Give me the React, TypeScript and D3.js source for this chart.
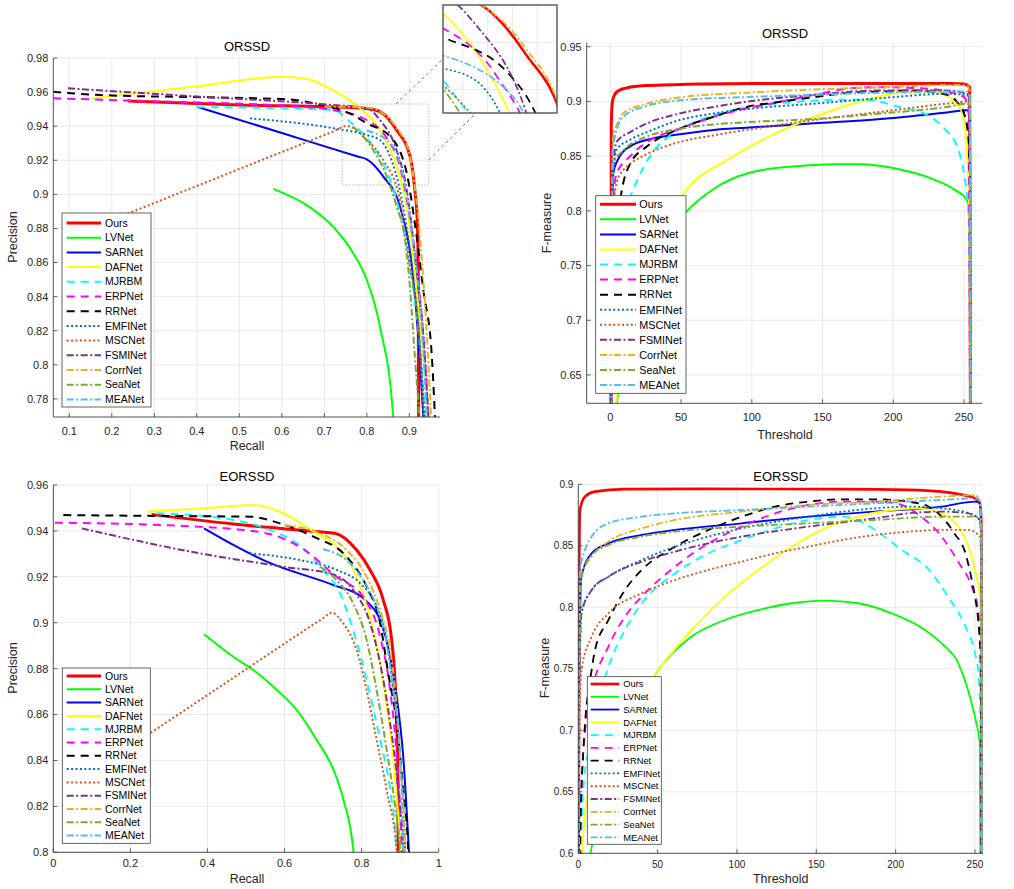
import React from 'react';
import * as d3 from 'd3';

type Pt = [number, number];

const METHODS = ['Ours', 'LVNet', 'SARNet', 'DAFNet', 'MJRBM', 'ERPNet', 'RRNet', 'EMFINet', 'MSCNet', 'FSMINet', 'CorrNet', 'SeaNet', 'MEANet'];
const COLORS = ['#ff0000', '#00ff00', '#0000ff', '#ffff00', '#00ffff', '#ff00ff', '#000000', '#0072bd', '#d95319', '#7e2f8e', '#edb120', '#77ac30', '#4dbeee'];
const STYLES = ['-', '-', '-', '-', '--', '--', '--', ':', ':', '-.', '-.', '-.', '-.'];

const PR_ORSSD_XTICKS = [0.1, 0.2, 0.3, 0.4, 0.5, 0.6, 0.7, 0.8, 0.9];
const PR_ORSSD_YTICKS = [0.78, 0.8, 0.82, 0.84, 0.86, 0.88, 0.9, 0.92, 0.94, 0.96, 0.98];
const F_ORSSD_XTICKS = [0, 50, 100, 150, 200, 250];
const F_ORSSD_YTICKS = [0.65, 0.7, 0.75, 0.8, 0.85, 0.9, 0.95];
const PR_EORSSD_XTICKS = [0, 0.2, 0.4, 0.6, 0.8, 1];
const PR_EORSSD_YTICKS = [0.8, 0.82, 0.84, 0.86, 0.88, 0.9, 0.92, 0.94, 0.96];
const F_EORSSD_XTICKS = [0, 50, 100, 150, 200, 250];
const F_EORSSD_YTICKS = [0.6, 0.65, 0.7, 0.75, 0.8, 0.85, 0.9];

// ---------- ORSSD PR (recall, precision) ----------
const prO_Ours: Pt[] = [[0.238, 0.9548], [0.5, 0.9525], [0.78, 0.9507], [0.8, 0.9503], [0.831, 0.9485], [0.87, 0.9378], [0.902, 0.922], [0.913, 0.9026], [0.919, 0.883], [0.921, 0.85], [0.922, 0.76]];
const prO_LVNet: Pt[] = [[0.58, 0.9032], [0.67, 0.8918], [0.721, 0.881], [0.768, 0.8655], [0.8, 0.8498], [0.831, 0.8224], [0.862, 0.7696], [0.864, 0.76]];
const prO_SARNet: Pt[] = [[0.4, 0.9514], [0.6, 0.936], [0.78, 0.9221], [0.8, 0.9206], [0.839, 0.9104], [0.878, 0.8928], [0.905, 0.86], [0.92, 0.82], [0.935, 0.76]];
const prO_DAFNet: Pt[] = [[0.153, 0.9564], [0.4, 0.9634], [0.6, 0.969], [0.659, 0.9677], [0.721, 0.9612], [0.78, 0.9514], [0.831, 0.9378], [0.862, 0.9221], [0.886, 0.9026], [0.902, 0.8792], [0.913, 0.8537], [0.925, 0.8244], [0.937, 0.795], [0.949, 0.76]];
const prO_MJRBM: Pt[] = [[0.4, 0.9512], [0.6, 0.9505], [0.721, 0.9495], [0.76, 0.9427], [0.807, 0.931], [0.835, 0.92], [0.87, 0.8967], [0.9, 0.86], [0.925, 0.81], [0.94, 0.76]];
const prO_ERPNet: Pt[] = [[0.062, 0.9564], [0.243, 0.955], [0.643, 0.9514], [0.72, 0.9495], [0.8, 0.9436], [0.847, 0.933], [0.878, 0.9163], [0.905, 0.88], [0.925, 0.84], [0.94, 0.79], [0.946, 0.76]];
const prO_RRNet: Pt[] = [[0.062, 0.9602], [0.172, 0.9583], [0.408, 0.957], [0.612, 0.9558], [0.7, 0.952], [0.76, 0.9475], [0.8, 0.9417], [0.855, 0.9339], [0.894, 0.9124], [0.913, 0.883], [0.933, 0.844], [0.953, 0.805], [0.962, 0.76]];
const prO_EMFINet: Pt[] = [[0.525, 0.9446], [0.721, 0.9388], [0.8, 0.9348], [0.83, 0.932], [0.855, 0.9221], [0.88, 0.9], [0.905, 0.86], [0.925, 0.81], [0.938, 0.76]];
const prO_MSCNet: Pt[] = [[0.15, 0.88], [0.45, 0.9099], [0.72, 0.9368], [0.753, 0.9401], [0.8, 0.9319], [0.839, 0.92], [0.878, 0.8967], [0.9, 0.86], [0.925, 0.81], [0.935, 0.76]];
const prO_FSMINet: Pt[] = [[0.097, 0.9622], [0.408, 0.9573], [0.721, 0.9524], [0.8, 0.9505], [0.831, 0.9436], [0.87, 0.926], [0.894, 0.9026], [0.915, 0.86], [0.935, 0.81], [0.947, 0.76]];
const prO_CorrNet: Pt[] = [[0.7, 0.9515], [0.8, 0.951], [0.835, 0.948], [0.87, 0.939], [0.9, 0.924], [0.915, 0.9], [0.93, 0.86], [0.943, 0.81], [0.953, 0.76]];
const prO_SeaNet: Pt[] = [[0.768, 0.9397], [0.815, 0.9261], [0.847, 0.9104], [0.87, 0.893], [0.89, 0.8733], [0.902, 0.844], [0.913, 0.805], [0.927, 0.76]];
const prO_MEANet: Pt[] = [[0.8, 0.9375], [0.862, 0.928], [0.89, 0.905], [0.91, 0.87], [0.93, 0.82], [0.943, 0.76]];

// ---------- ORSSD F-measure vs threshold ----------
const fO_Ours: Pt[] = [[0, 0.3], [0.7, 0.88], [1.5, 0.9], [3, 0.906], [6, 0.91], [12, 0.9125], [25, 0.9145], [50, 0.9155], [100, 0.9163], [150, 0.9165], [200, 0.9165], [240, 0.9163], [250, 0.916], [254, 0.913], [255, 0.3]];
const fO_LVNet: Pt[] = [[0, 0.3], [3, 0.6], [15, 0.7], [35, 0.765], [54, 0.7995], [73, 0.82], [99, 0.835], [134, 0.841], [157.6, 0.8426], [176, 0.8426], [204, 0.838], [228, 0.829], [245, 0.818], [252, 0.81], [254, 0.8], [255, 0.3]];
const fO_SARNet: Pt[] = [[0, 0.3], [1, 0.76], [2, 0.834], [5, 0.846], [9, 0.854], [14, 0.859], [26, 0.865], [49, 0.87], [73, 0.874], [96, 0.876], [144, 0.88], [191, 0.884], [238, 0.89], [252, 0.892], [254, 0.89], [255, 0.3]];
const fO_DAFNet: Pt[] = [[0, 0.3], [1, 0.5], [5, 0.64], [15, 0.72], [30, 0.77], [51.6, 0.816], [87, 0.85], [122, 0.874], [157, 0.892], [181, 0.9015], [204, 0.908], [228, 0.909], [242, 0.9015], [249, 0.889], [251.5, 0.865], [252.7, 0.84], [254, 0.78], [255, 0.3]];
const fO_MJRBM: Pt[] = [[0, 0.3], [1, 0.65], [3, 0.74], [8, 0.79], [15.1, 0.816], [28, 0.85], [44.5, 0.871], [63, 0.883], [87, 0.892], [110, 0.897], [134, 0.9], [157, 0.9015], [181, 0.9015], [204, 0.895], [223, 0.888], [237, 0.874], [246, 0.856], [250, 0.834], [252, 0.816], [253, 0.8], [254, 0.75], [255, 0.3]];
const fO_ERPNet: Pt[] = [[0, 0.3], [1, 0.75], [2, 0.81], [4.4, 0.834], [14, 0.85], [26, 0.863], [49, 0.875], [73, 0.886], [96, 0.8936], [120, 0.8997], [144, 0.906], [170, 0.912], [191, 0.913], [220, 0.912], [238, 0.909], [250, 0.904], [253, 0.895], [255, 0.3]];
const fO_RRNet: Pt[] = [[0, 0.3], [1, 0.7], [2, 0.76], [5, 0.79], [8, 0.818], [14, 0.843], [26, 0.859], [49, 0.875], [73, 0.886], [96, 0.895], [120, 0.8997], [144, 0.904], [170, 0.908], [191, 0.909], [215, 0.91], [238, 0.906], [245, 0.8997], [250, 0.889], [253, 0.868], [254, 0.84], [255, 0.3]];
const fO_EMFINet: Pt[] = [[0, 0.3], [1, 0.77], [2, 0.83], [4.5, 0.856], [14, 0.865], [26, 0.872], [49, 0.883], [73, 0.889], [96, 0.893], [144, 0.898], [191, 0.903], [238, 0.907], [252, 0.906], [254, 0.9], [255, 0.3]];
const fO_MSCNet: Pt[] = [[0, 0.3], [1, 0.75], [2, 0.8], [5, 0.828], [9, 0.837], [14, 0.843], [26, 0.852], [49, 0.863], [73, 0.869], [96, 0.874], [144, 0.883], [191, 0.8905], [238, 0.898], [252, 0.8997], [254, 0.895], [255, 0.3]];
const fO_FSMINet: Pt[] = [[0, 0.3], [1, 0.78], [2, 0.84], [4.5, 0.863], [14, 0.872], [26, 0.88], [49, 0.889], [73, 0.895], [96, 0.8997], [144, 0.906], [191, 0.91], [238, 0.91], [252, 0.907], [254, 0.9], [255, 0.3]];
const fO_CorrNet: Pt[] = [[0, 0.3], [1, 0.8], [2, 0.866], [5, 0.88], [9, 0.889], [26, 0.898], [49, 0.9037], [96, 0.908], [144, 0.911], [191, 0.9128], [238, 0.915], [252, 0.915], [254, 0.91], [255, 0.3]];
const fO_SeaNet: Pt[] = [[0, 0.3], [1, 0.78], [2, 0.843], [9, 0.855], [26, 0.868], [49, 0.875], [73, 0.879], [96, 0.881], [144, 0.884], [191, 0.889], [238, 0.895], [252, 0.898], [254, 0.895], [255, 0.3]];
const fO_MEANet: Pt[] = [[0, 0.3], [1, 0.79], [2, 0.858], [5, 0.876], [9, 0.886], [26, 0.896], [49, 0.901], [96, 0.904], [144, 0.906], [191, 0.908], [238, 0.909], [252, 0.909], [254, 0.905], [255, 0.3]];

// ---------- EORSSD PR ----------
const prE_Ours: Pt[] = [[0.255, 0.9472], [0.467, 0.943], [0.71, 0.9393], [0.73, 0.939], [0.787, 0.9317], [0.822, 0.923], [0.856, 0.91], [0.878, 0.8925], [0.887, 0.8736], [0.891, 0.856], [0.894, 0.8345], [0.895, 0.79]];
const prE_LVNet: Pt[] = [[0.391, 0.895], [0.467, 0.8852], [0.519, 0.8794], [0.58, 0.8707], [0.6315, 0.862], [0.683, 0.849], [0.727, 0.8359], [0.753, 0.8228], [0.779, 0.8], [0.782, 0.79]];
const prE_SARNet: Pt[] = [[0.391, 0.9411], [0.467, 0.9339], [0.554, 0.9266], [0.727, 0.9164], [0.8, 0.9113], [0.815, 0.909], [0.848, 0.9012], [0.874, 0.8852], [0.891, 0.8678], [0.908, 0.8416], [0.926, 0.79]];
const prE_DAFNet: Pt[] = [[0.242, 0.9484], [0.4, 0.95], [0.519, 0.9513], [0.597, 0.9477], [0.675, 0.9397], [0.735, 0.9331], [0.787, 0.92], [0.822, 0.9026], [0.848, 0.8823], [0.865, 0.8634], [0.882, 0.8416], [0.906, 0.79]];
const prE_MJRBM: Pt[] = [[0.268, 0.9477], [0.467, 0.9448], [0.562, 0.9404], [0.649, 0.9324], [0.7, 0.923], [0.744, 0.9128], [0.778, 0.8968], [0.813, 0.875], [0.848, 0.8489], [0.874, 0.8271], [0.891, 0.8], [0.893, 0.79]];
const prE_ERPNet: Pt[] = [[0.004, 0.9436], [0.381, 0.9418], [0.554, 0.9389], [0.649, 0.932], [0.735, 0.92], [0.804, 0.9113], [0.848, 0.8939], [0.874, 0.8707], [0.891, 0.8416], [0.904, 0.8], [0.905, 0.79]];
const prE_RRNet: Pt[] = [[0.026, 0.9469], [0.294, 0.9465], [0.51, 0.9462], [0.588, 0.9433], [0.675, 0.9375], [0.761, 0.9288], [0.813, 0.9157], [0.848, 0.8998], [0.869, 0.878], [0.891, 0.8562], [0.908, 0.8271], [0.921, 0.8], [0.922, 0.79]];
const prE_EMFINet: Pt[] = [[0.51, 0.9302], [0.64, 0.9273], [0.735, 0.923], [0.796, 0.9172], [0.839, 0.907], [0.865, 0.8925], [0.882, 0.8707], [0.9, 0.8416], [0.913, 0.8], [0.914, 0.79]];
const prE_MSCNet: Pt[] = [[0.1, 0.835], [0.4, 0.8685], [0.7, 0.902], [0.722, 0.9044], [0.752, 0.8998], [0.787, 0.8881], [0.813, 0.8707], [0.839, 0.8489], [0.865, 0.8271], [0.891, 0.8], [0.892, 0.79]];
const prE_FSMINet: Pt[] = [[0.074, 0.9411], [0.381, 0.9302], [0.597, 0.9244], [0.727, 0.921], [0.778, 0.9143], [0.822, 0.8998], [0.848, 0.8823], [0.874, 0.8562], [0.895, 0.8271], [0.908, 0.8], [0.909, 0.79]];
const prE_CorrNet: Pt[] = [[0.6, 0.9425], [0.692, 0.939], [0.761, 0.9317], [0.813, 0.92], [0.848, 0.9055], [0.874, 0.8881], [0.887, 0.8707], [0.9, 0.8416], [0.913, 0.8], [0.914, 0.79]];
const prE_SeaNet: Pt[] = [[0.692, 0.9244], [0.735, 0.9186], [0.778, 0.9085], [0.813, 0.8925], [0.839, 0.8707], [0.865, 0.8446], [0.887, 0.8199], [0.9, 0.8], [0.901, 0.79]];
const prE_MEANet: Pt[] = [[0.7, 0.932], [0.77, 0.9259], [0.804, 0.9186], [0.839, 0.907], [0.865, 0.891], [0.882, 0.8707], [0.9, 0.8416], [0.908, 0.8], [0.909, 0.79]];

// ---------- EORSSD F-measure vs threshold ----------
const fE_Ours: Pt[] = [[0, 0.3], [0.5, 0.82], [1, 0.879], [4.2, 0.89], [10.5, 0.894], [29, 0.896], [80, 0.8962], [165, 0.896], [208, 0.8954], [229, 0.894], [244, 0.891], [250, 0.8886], [253, 0.8846], [254, 0.87], [254.5, 0.3]];
const fE_LVNet: Pt[] = [[0, 0.3], [3, 0.55], [15, 0.64], [30, 0.7], [50.4, 0.749], [71.4, 0.7762], [92.4, 0.7897], [113.4, 0.7978], [134.5, 0.8033], [155.5, 0.8054], [176.5, 0.8033], [197.5, 0.7951], [218.5, 0.7816], [229, 0.7707], [239.5, 0.7545], [249, 0.7165], [251, 0.705], [253, 0.69], [254.5, 0.3]];
const fE_SARNet: Pt[] = [[0, 0.3], [0.5, 0.74], [2, 0.825], [8.4, 0.8439], [19, 0.852], [40, 0.8588], [61, 0.8629], [103, 0.8683], [145, 0.8737], [187, 0.8778], [229, 0.8818], [250, 0.8859], [253, 0.885], [254, 0.86], [254.5, 0.3]];
const fE_DAFNet: Pt[] = [[0, 0.3], [1, 0.55], [3, 0.61], [5.3, 0.643], [20, 0.69], [35, 0.72], [50.4, 0.749], [71.4, 0.7816], [92.4, 0.8087], [113.4, 0.8304], [134.5, 0.8493], [155.5, 0.8642], [176.5, 0.8737], [197.5, 0.8791], [214, 0.8805], [229, 0.8764], [239.5, 0.8656], [246, 0.8493], [250, 0.8304], [253, 0.8087], [254, 0.75], [254.5, 0.3]];
const fE_MJRBM: Pt[] = [[0, 0.3], [1, 0.55], [3, 0.65], [7.4, 0.69], [12, 0.72], [19, 0.7518], [29.4, 0.7816], [40, 0.8033], [61, 0.8277], [82, 0.8439], [103, 0.8547], [124, 0.8642], [145, 0.871], [166, 0.8737], [176, 0.871], [187, 0.8629], [204, 0.8466], [221, 0.8304], [233, 0.8087], [244, 0.7843], [250, 0.7626], [252, 0.749], [253.5, 0.7], [254.5, 0.3]];
const fE_ERPNet: Pt[] = [[0, 0.3], [1, 0.6], [3, 0.68], [7.4, 0.7245], [19, 0.768], [29.4, 0.7924], [40, 0.8087], [61, 0.8331], [82, 0.852], [103, 0.8656], [124, 0.8764], [145, 0.8832], [166, 0.8859], [187, 0.8859], [200, 0.8846], [216, 0.8737], [229, 0.8575], [240, 0.8358], [248, 0.8168], [252, 0.7978], [253.5, 0.76], [254.5, 0.3]];
const fE_RRNet: Pt[] = [[0, 0.3], [1, 0.6], [3.2, 0.684], [8.4, 0.749], [10.5, 0.765], [19, 0.7897], [29.4, 0.8141], [40, 0.8304], [61, 0.8493], [82, 0.8629], [103, 0.8737], [124, 0.8818], [145, 0.8859], [166, 0.8878], [187, 0.8878], [208, 0.8859], [221, 0.8818], [229, 0.8737], [237, 0.8602], [244, 0.8439], [248, 0.8222], [250, 0.8087], [252, 0.7897], [253.5, 0.76], [254.5, 0.3]];
const fE_EMFINet: Pt[] = [[0, 0.3], [0.5, 0.72], [2, 0.7951], [8.4, 0.814], [19, 0.8249], [40, 0.8385], [61, 0.8493], [82, 0.8575], [103, 0.8642], [145, 0.8737], [187, 0.8805], [208, 0.8818], [229, 0.8805], [246, 0.8764], [253, 0.871], [254, 0.85], [254.5, 0.3]];
const fE_MSCNet: Pt[] = [[0, 0.3], [0.5, 0.65], [1, 0.72], [2, 0.749], [8.4, 0.7762], [19, 0.7951], [40, 0.8114], [61, 0.8222], [82, 0.8304], [103, 0.8371], [124, 0.8439], [145, 0.8493], [166, 0.8547], [187, 0.8588], [208, 0.8615], [229, 0.8629], [246, 0.8629], [253, 0.8575], [254, 0.83], [254.5, 0.3]];
const fE_FSMINet: Pt[] = [[0, 0.3], [0.5, 0.72], [2, 0.7951], [8.4, 0.814], [19, 0.8249], [40, 0.8371], [61, 0.8453], [82, 0.852], [103, 0.8575], [145, 0.8656], [187, 0.8724], [208, 0.8764], [229, 0.8778], [246, 0.8764], [253, 0.871], [254, 0.85], [254.5, 0.3]];
const fE_CorrNet: Pt[] = [[0, 0.3], [0.5, 0.74], [2, 0.825], [8.4, 0.8412], [19, 0.8534], [40, 0.8642], [61, 0.871], [103, 0.8778], [145, 0.8832], [187, 0.8859], [229, 0.89], [250, 0.8913], [253, 0.886], [254, 0.86], [254.5, 0.3]];
const fE_SeaNet: Pt[] = [[0, 0.3], [0.5, 0.74], [2, 0.825], [8.4, 0.8425], [19, 0.8507], [40, 0.8575], [61, 0.8615], [103, 0.8656], [145, 0.8683], [187, 0.871], [229, 0.8737], [250, 0.8737], [253, 0.871], [254, 0.85], [254.5, 0.3]];
const fE_MEANet: Pt[] = [[0, 0.3], [0.5, 0.75], [1, 0.83], [4.2, 0.8466], [8.4, 0.8575], [19, 0.8683], [40, 0.8737], [61, 0.8764], [103, 0.8791], [145, 0.8818], [187, 0.8846], [229, 0.8873], [250, 0.8886], [253, 0.887], [254, 0.86], [254.5, 0.3]];

const PR_ORSSD = [prO_Ours, prO_LVNet, prO_SARNet, prO_DAFNet, prO_MJRBM, prO_ERPNet, prO_RRNet, prO_EMFINet, prO_MSCNet, prO_FSMINet, prO_CorrNet, prO_SeaNet, prO_MEANet];
const F_ORSSD = [fO_Ours, fO_LVNet, fO_SARNet, fO_DAFNet, fO_MJRBM, fO_ERPNet, fO_RRNet, fO_EMFINet, fO_MSCNet, fO_FSMINet, fO_CorrNet, fO_SeaNet, fO_MEANet];
const PR_EORSSD = [prE_Ours, prE_LVNet, prE_SARNet, prE_DAFNet, prE_MJRBM, prE_ERPNet, prE_RRNet, prE_EMFINet, prE_MSCNet, prE_FSMINet, prE_CorrNet, prE_SeaNet, prE_MEANet];
const F_EORSSD = [fE_Ours, fE_LVNet, fE_SARNet, fE_DAFNet, fE_MJRBM, fE_ERPNet, fE_RRNet, fE_EMFINet, fE_MSCNet, fE_FSMINet, fE_CorrNet, fE_SeaNet, fE_MEANet];

// zoom annotation (data coords)
const ZOOM_RECT_X = [0.742, 0.946];
const ZOOM_RECT_Y = [0.9055, 0.953];
const INSET_X = [0.804, 0.896];
const INSET_Y = [0.925, 0.948];

const FONT = '"Liberation Sans", Arial, Helvetica, sans-serif';
const GRID = '#e3e3e3';
const AXIS = '#404040';
const TEXT = '#262626';

const dashFor = (s: string) => (s === '--' ? '8,6' : s === ':' ? '2,2.4' : s === '-.' ? '7,2.5,2,2.5' : undefined);
const fmt = (v: number) => String(+v.toFixed(2));

interface PanelProps {
  id: string;
  data: Pt[][];
  xDomain: [number, number];
  yDomain: [number, number];
  xRange: [number, number];
  yRange: [number, number];
  xTicks: number[];
  yTicks: number[];
  curve: d3.CurveFactory;
  title: string;
  titlePos: [number, number];
  xLabel: string;
  xLabelPos: [number, number];
  yLabel: string;
  yLabelPos: [number, number];
  tickFont: number;
  xTickDy: number;
  legend: { x0: number; x1: number; y0: number; y1: number; row0: number; rowStep: number; lineX0: number; lineX1: number; textX: number; font: number };
  lineScale?: number;
  children?: React.ReactNode;
}

function Series({ data, x, y, curve, clip, scale = 1 }: { data: Pt[][]; x: d3.ScaleLinear<number, number>; y: d3.ScaleLinear<number, number>; curve: d3.CurveFactory; clip: string; scale?: number }) {
  const line = d3.line<Pt>().x((d) => x(d[0])).y((d) => y(d[1])).curve(curve);
  return (
    <g clipPath={`url(#${clip})`}>
      {data.map((pts, i) => (
        <path
          key={i}
          d={line(pts) || ''}
          fill="none"
          stroke={COLORS[i]}
          strokeWidth={(i === 0 ? 3 : 2) * scale}
          strokeDasharray={dashFor(STYLES[i])}
          strokeLinejoin="round"
        />
      ))}
    </g>
  );
}

function Panel(p: PanelProps) {
  const x = d3.scaleLinear().domain(p.xDomain).range(p.xRange);
  const y = d3.scaleLinear().domain(p.yDomain).range(p.yRange);
  const [xl, xr] = p.xRange;
  const [yb, yt] = p.yRange;
  const L = p.legend;
  return (
    <g>
      <defs>
        <clipPath id={p.id}>
          <rect x={xl} y={yt} width={xr - xl} height={yb - yt} />
        </clipPath>
      </defs>
      {p.xTicks.map((t) => (
        <line key={'gx' + t} x1={x(t)} x2={x(t)} y1={yb} y2={yt} stroke={GRID} strokeWidth={0.8} />
      ))}
      {p.yTicks.map((t) => (
        <line key={'gy' + t} x1={xl} x2={xr} y1={y(t)} y2={y(t)} stroke={GRID} strokeWidth={0.8} />
      ))}
      <Series data={p.data} x={x} y={y} curve={p.curve} clip={p.id} scale={p.lineScale} />
      {p.children}
      <line x1={xl} x2={xr} y1={yb} y2={yb} stroke={AXIS} strokeWidth={0.9} />
      <line x1={xl} x2={xl} y1={yb} y2={yt} stroke={AXIS} strokeWidth={0.9} />
      {p.xTicks.map((t) => (
        <g key={'tx' + t}>
          <line x1={x(t)} x2={x(t)} y1={yb} y2={yb - 4} stroke={AXIS} strokeWidth={0.8} />
          <text x={x(t)} y={yb + p.xTickDy} textAnchor="middle" fontSize={p.tickFont} fill={TEXT} fontFamily={FONT}>
            {fmt(t)}
          </text>
        </g>
      ))}
      {p.yTicks.map((t) => (
        <g key={'ty' + t}>
          <line x1={xl} x2={xl + 4} y1={y(t)} y2={y(t)} stroke={AXIS} strokeWidth={0.8} />
          <text x={xl - 5} y={y(t)} dy="0.35em" textAnchor="end" fontSize={p.tickFont} fill={TEXT} fontFamily={FONT}>
            {fmt(t)}
          </text>
        </g>
      ))}
      <text x={p.titlePos[0]} y={p.titlePos[1]} dy="0.35em" textAnchor="middle" fontSize={13} fill="#000" fontFamily={FONT}>
        {p.title}
      </text>
      <text x={p.xLabelPos[0]} y={p.xLabelPos[1]} dy="0.35em" textAnchor="middle" fontSize={12.5} fill={TEXT} fontFamily={FONT}>
        {p.xLabel}
      </text>
      <text
        transform={`translate(${p.yLabelPos[0]},${p.yLabelPos[1]}) rotate(-90)`}
        dy="0.35em"
        textAnchor="middle"
        fontSize={12.5}
        fill={TEXT}
        fontFamily={FONT}
      >
        {p.yLabel}
      </text>
      <g>
        <rect x={L.x0} y={L.y0} width={L.x1 - L.x0} height={L.y1 - L.y0} fill="#fff" stroke={AXIS} strokeWidth={0.8} />
        {METHODS.map((m, i) => {
          const yy = L.row0 + i * L.rowStep;
          return (
            <g key={m}>
              <line x1={L.lineX0} x2={L.lineX1} y1={yy} y2={yy} stroke={COLORS[i]} strokeWidth={(i === 0 ? 3 : 2) * (p.lineScale || 1)} strokeDasharray={dashFor(STYLES[i])} />
              <text x={L.textX} y={yy} dy="0.35em" fontSize={L.font} fill="#000" fontFamily={FONT}>
                {m}
              </text>
            </g>
          );
        })}
      </g>
    </g>
  );
}

function Inset({ mainX, mainY }: { mainX: d3.ScaleLinear<number, number>; mainY: d3.ScaleLinear<number, number> }) {
  const box = { x0: 443, x1: 557, y0: 5, y1: 113 };
  const x = d3.scaleLinear().domain(INSET_X).range([box.x0, box.x1]);
  const y = d3.scaleLinear().domain(INSET_Y).range([box.y1, box.y0]);
  const rx0 = mainX(ZOOM_RECT_X[0]);
  const rx1 = mainX(ZOOM_RECT_X[1]);
  const ry0 = mainY(ZOOM_RECT_Y[1]);
  const ry1 = mainY(ZOOM_RECT_Y[0]);
  return (
    <g>
      <rect x={rx0} y={ry0} width={rx1 - rx0} height={ry1 - ry0} fill="none" stroke="#9a9a9a" strokeWidth={0.7} strokeDasharray="1.5,1.5" />
      <line x1={rx0 + (rx1 - rx0) * 0.62} y1={ry0} x2={box.x0} y2={(box.y0 + box.y1) / 2} stroke="#555" strokeWidth={0.8} strokeDasharray="3,3" />
      <line x1={rx1} y1={ry0 + (ry1 - ry0) * 0.69} x2={box.x0 + 33} y2={box.y1} stroke="#555" strokeWidth={0.8} strokeDasharray="3,3" />
      <defs>
        <clipPath id="insetclip">
          <rect x={box.x0} y={box.y0} width={box.x1 - box.x0} height={box.y1 - box.y0} />
        </clipPath>
      </defs>
      <rect x={box.x0} y={box.y0} width={box.x1 - box.x0} height={box.y1 - box.y0} fill="#fff" />
      {x.ticks(3).map((t) => (
        <line key={'ix' + t} x1={x(t)} x2={x(t)} y1={box.y0} y2={box.y1} stroke={GRID} strokeWidth={0.7} />
      ))}
      {y.ticks(3).map((t) => (
        <line key={'iy' + t} x1={box.x0} x2={box.x1} y1={y(t)} y2={y(t)} stroke={GRID} strokeWidth={0.7} />
      ))}
      <Series data={PR_ORSSD} x={x} y={y} curve={d3.curveMonotoneX} clip="insetclip" scale={0.85} />
      <rect x={box.x0} y={box.y0} width={box.x1 - box.x0} height={box.y1 - box.y0} fill="none" stroke="#555" strokeWidth={1.4} />
    </g>
  );
}

export default function App() {
  const mono = d3.curveMonotoneX;
  const p1X: [number, number] = [0.0624, 0.9722];
  const p1Y: [number, number] = [0.7694, 0.98];
  const p1XR: [number, number] = [53.3, 440];
  const p1YR: [number, number] = [417, 58];
  const mainX = d3.scaleLinear().domain(p1X).range(p1XR);
  const mainY = d3.scaleLinear().domain(p1Y).range(p1YR);
  return (
    <svg width={1014} height={889} style={{ position: 'absolute', left: 0, top: 0, background: '#fff' }} fontFamily={FONT}>
      <rect width={1014} height={889} fill="#fff" />
      <Panel
        id="c1"
        data={PR_ORSSD}
        xDomain={p1X}
        yDomain={p1Y}
        xRange={p1XR}
        yRange={p1YR}
        xTicks={PR_ORSSD_XTICKS}
        yTicks={PR_ORSSD_YTICKS}
        curve={mono}
        title="ORSSD"
        titlePos={[247, 46]}
        xLabel="Recall"
        xLabelPos={[247, 446]}
        yLabel="Precision"
        yLabelPos={[13, 237]}
        tickFont={11}
        xTickDy={17.5}
        legend={{ x0: 62, x1: 151, y0: 213, y1: 407, row0: 223, rowStep: 14.7, lineX0: 66.7, lineX1: 101, textX: 105, font: 10.5 }}
      >
        <Inset mainX={mainX} mainY={mainY} />
      </Panel>
      <Panel
        id="c2"
        data={F_ORSSD}
        xDomain={[-16.7, 262.9]}
        yDomain={[0.6241, 0.9537]}
        xRange={[586.7, 982.3]}
        yRange={[403.3, 42.7]}
        xTicks={F_ORSSD_XTICKS}
        yTicks={F_ORSSD_YTICKS}
        curve={mono}
        title="ORSSD"
        titlePos={[785, 33]}
        xLabel="Threshold"
        xLabelPos={[785, 435]}
        yLabel="F-measure"
        yLabelPos={[547, 223]}
        tickFont={11}
        xTickDy={17.3}
        legend={{ x0: 595.7, x1: 686, y0: 195.7, y1: 393.3, row0: 204.3, rowStep: 15.06, lineX0: 600, lineX1: 636, textX: 639.3, font: 10.8 }}
      />
      <Panel
        id="c3"
        data={PR_EORSSD}
        xDomain={[0, 1]}
        yDomain={[0.8, 0.96]}
        xRange={[53.3, 438.7]}
        yRange={[852.3, 485]}
        xTicks={PR_EORSSD_XTICKS}
        yTicks={PR_EORSSD_YTICKS}
        curve={mono}
        title="EORSSD"
        titlePos={[247, 476]}
        xLabel="Recall"
        xLabelPos={[247, 879]}
        yLabel="Precision"
        yLabelPos={[13, 668]}
        tickFont={11}
        xTickDy={15}
        legend={{ x0: 62.3, x1: 150.3, y0: 668, y1: 843.3, row0: 676, rowStep: 13.3, lineX0: 66.7, lineX1: 101, textX: 105, font: 10.5 }}
      />
      <Panel
        id="c4"
        data={F_EORSSD}
        xDomain={[0, 255]}
        yDomain={[0.6, 0.9]}
        xRange={[578.3, 982.9]}
        yRange={[853.3, 484.3]}
        xTicks={F_EORSSD_XTICKS}
        yTicks={F_EORSSD_YTICKS}
        curve={mono}
        title="EORSSD"
        titlePos={[780.7, 476]}
        xLabel="Threshold"
        xLabelPos={[780.7, 879]}
        yLabel="F-measure"
        yLabelPos={[545, 668]}
        tickFont={10}
        xTickDy={14.5}
        lineScale={0.9}
        legend={{ x0: 587.3, x1: 661.3, y0: 676.7, y1: 844.3, row0: 684, rowStep: 12.78, lineX0: 590.7, lineX1: 619.3, textX: 623.3, font: 9.3 }}
      />
    </svg>
  );
}
